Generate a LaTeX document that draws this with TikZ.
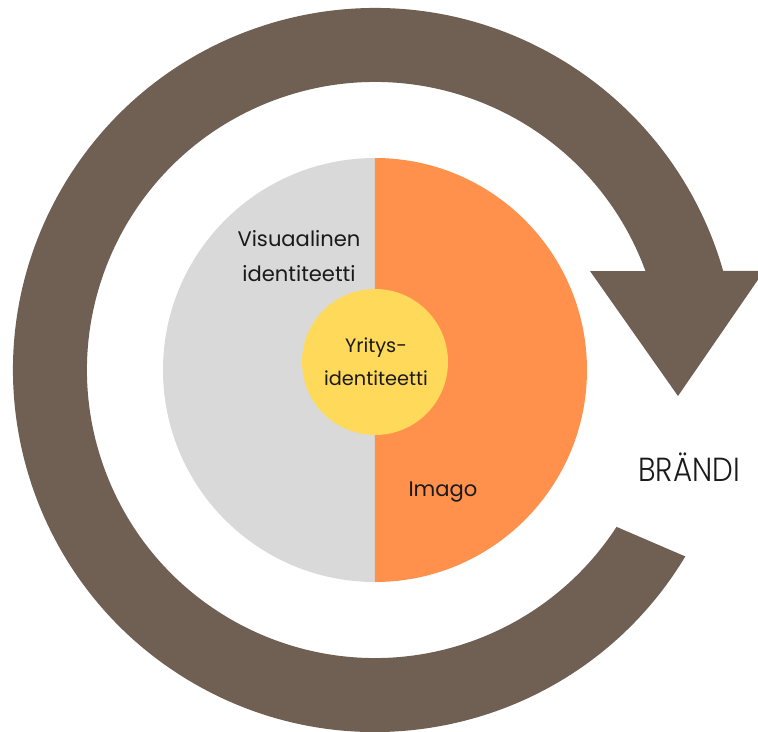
\documentclass[tikz,border=0pt]{standalone}
\usepackage{fontspec}
\setmainfont{Poppins}
\newfontfamily\brandfont[FakeStretch=0.88]{Poppins Light}
\definecolor{ringbrown}{HTML}{705F53}
\definecolor{idgray}{HTML}{D9D9D9}
\definecolor{imagoorange}{HTML}{FF914D}
\definecolor{coreyellow}{HTML}{FFD95A}
\definecolor{txt}{HTML}{1A1A1A}

\begin{document}
\begin{tikzpicture}[x=0.02cm, y=0.02cm,
    disc-txt/.style={text=txt, align=center, inner sep=0pt, font=\fontsize{12}{20}\selectfont}
  ]
\useasboundingbox (-375,-361) rectangle (383,370);

% Brand cycle: thick ring ending in an arrow head
\fill[ringbrown] (-31:362) arc[start angle=-31, end angle=-344.1, radius=362]
  -- (389,99) -- (303,-26) -- (215,99) -- (20.1:288)
  arc[start angle=-339.9, end angle=-33, radius=288] -- cycle;

% Identity disc, split in two halves
\fill[idgray] (0,212) arc[start angle=90, end angle=270, radius=212] -- cycle;
\fill[imagoorange] (0,-212) arc[start angle=-90, end angle=90, radius=212] -- cycle;
\fill[coreyellow] (0,8) circle[radius=73];

% Labels
\node[disc-txt] (visual) at (-76,114) {Visuaalinen\\identiteetti};
\node[disc-txt, font=\fontsize{11}{19}\selectfont] (core) at (1,8) {Yritys-\\identiteetti};
\node[disc-txt] (imago) at (68,-122) {Imago};
\node[text=txt, anchor=base, inner sep=0pt, font=\brandfont\fontsize{19}{19}\selectfont] (brand) at (314,-111) {BRÄNDI};

\end{tikzpicture}
\end{document}
